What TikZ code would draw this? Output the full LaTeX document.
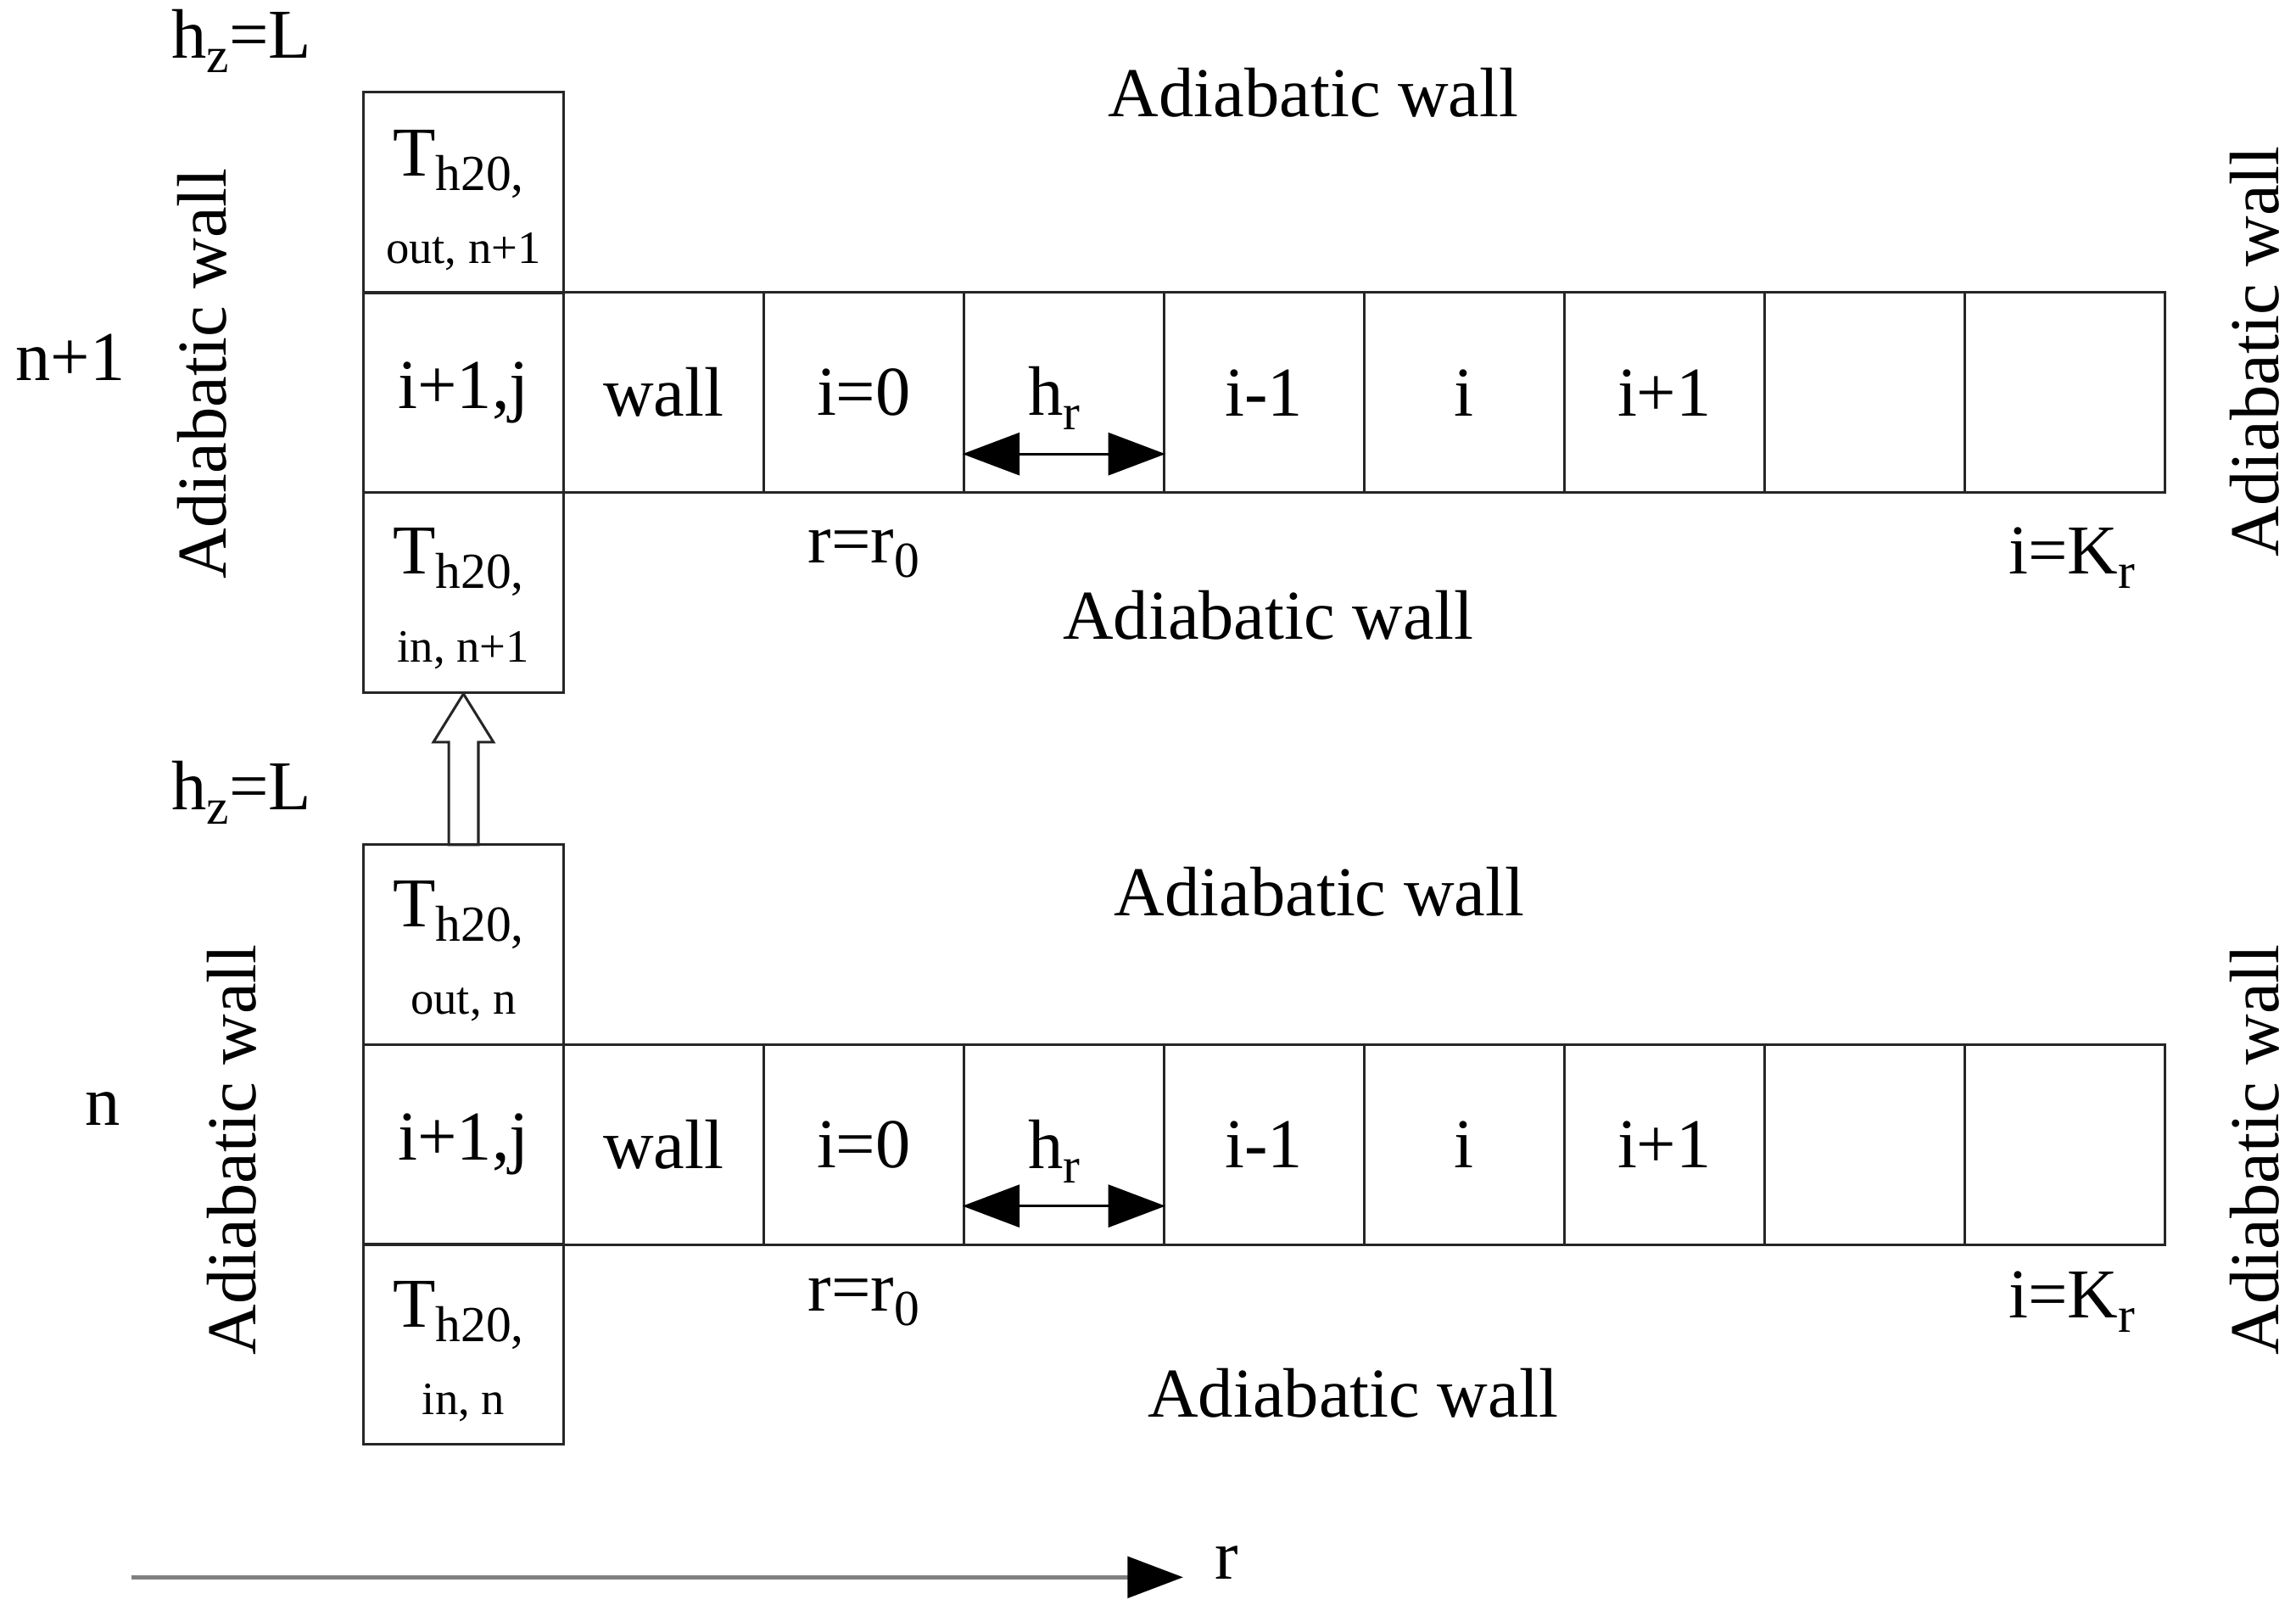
\documentclass[tikz,border=0pt]{standalone}
\usepackage{fontspec}
\setmainfont{Liberation Serif}
\usetikzlibrary{arrows.meta}
\newcommand\mainsz{\fontsize{13.6}{16}\selectfont}
\newcommand\smallsz{\fontsize{9}{11}\selectfont}
\newcommand\mysub[1]{\raisebox{-0.45ex}{\fontsize{9.8}{11}\selectfont #1}}
\begin{document}
\begin{tikzpicture}[x=0.01cm,y=-0.01cm,
  cell/.style={draw=black!85, line width=0.5pt, minimum width=1.367cm, minimum height=1.367cm, inner sep=0pt, font=\mainsz},
  lbl/.style={inner sep=0pt, font=\mainsz},
  sublbl/.style={inner sep=0pt, font=\smallsz},
  vlbl/.style={inner sep=0pt, font=\mainsz, rotate=90},
  bigtip/.style={-{Triangle[length=0.39cm,width=0.29cm]}}
]
\useasboundingbox (0,0) rectangle (1568,1103);

% ---------- upper layer (n+1) ----------
\node[cell] (tout1) at (316.5,131.5) {};
\node[cell] (c1-0) at (316.5,268) {i+1,j};
\node[cell] (tin1) at (316.5,404.5) {};
\foreach \k/\t in {1/wall,2/i=0,3/,4/i-1,5/i,6/i+1,7/,8/} {
  \node[cell] (c1-\k) at ({316.5+136.7*\k},268) {\t};
}
\node[lbl] (tA1) at (313,112) {T\mysub{h20,}};
\node[sublbl] (tB1) at (316.5,172) {out, n+1};
\node[lbl] (tC1) at (313,384) {T\mysub{h20,}};
\node[sublbl] (tD1) at (316.5,444) {in, n+1};
\node[lbl] (hr1) at (720,272) {h\mysub{r}};
\path (c1-3.west) ++(0,42) coordinate (ha1);
\path (c1-3.east) ++(0,42) coordinate (hb1);
\draw[line width=0.5pt, {Triangle[length=0.39cm,width=0.29cm]}-{Triangle[length=0.39cm,width=0.29cm]}] (ha1) -- (hb1);

\node[lbl] (hz1) at (165,28) {h\mysub{z}=L};
\node[lbl] (aw1) at (897,63) {Adiabatic wall};
\node[lbl] (aw2) at (866,420) {Adiabatic wall};
\node[vlbl] (aw3) at (138,255) {Adiabatic wall};
\node[vlbl] (aw4) at (1540,240) {Adiabatic wall};
\node[lbl] (n1) at (48,244) {n+1};
\node[lbl] (r01) at (590,378) {r=r\mysub{0}};
\node[lbl] (kr1) at (1415,381) {i=K\mysub{r}};

% ---------- lower layer (n) ----------
\node[cell] (tout2) at (316.5,645) {};
\node[cell] (c2-0) at (316.5,781.5) {i+1,j};
\node[cell] (tin2) at (316.5,918) {};
\foreach \k/\t in {1/wall,2/i=0,3/,4/i-1,5/i,6/i+1,7/,8/} {
  \node[cell] (c2-\k) at ({316.5+136.7*\k},781.5) {\t};
}
\node[lbl] (tA2) at (313,625) {T\mysub{h20,}};
\node[sublbl] (tB2) at (316.5,686) {out, n};
\node[lbl] (tC2) at (313,898) {T\mysub{h20,}};
\node[sublbl] (tD2) at (316.5,958) {in, n};
\node[lbl] (hr2) at (720,786) {h\mysub{r}};
\path (c2-3.west) ++(0,42) coordinate (ha2);
\path (c2-3.east) ++(0,42) coordinate (hb2);
\draw[line width=0.5pt, {Triangle[length=0.39cm,width=0.29cm]}-{Triangle[length=0.39cm,width=0.29cm]}] (ha2) -- (hb2);

\node[lbl] (hz2) at (165,541) {h\mysub{z}=L};
\node[lbl] (aw5) at (901,609) {Adiabatic wall};
\node[lbl] (aw6) at (924,951) {Adiabatic wall};
\node[vlbl] (aw7) at (158,785) {Adiabatic wall};
\node[vlbl] (aw8) at (1540,785) {Adiabatic wall};
\node[lbl] (n2) at (70,757) {n};
\node[lbl] (r02) at (590,889) {r=r\mysub{0}};
\node[lbl] (kr2) at (1415,889) {i=K\mysub{r}};

% ---------- hollow arrow between layers ----------
\draw[draw=black!85, line width=0.5pt, fill=white]
  (tin1.south) -- ++(-20.5,33) -- ++(10.5,0) -- ++(0,70) -- ++(20.2,0)
  -- ++(0,-70) -- ++(10.3,0) -- cycle;

% ---------- r axis ----------
\coordinate (ra) at (90,1077);
\coordinate (rb) at (808,1077);
\draw[gray, line width=0.8pt, -{Triangle[length=0.38cm,width=0.28cm,black]}] (ra) -- (rb);
\node[lbl] (rl) at (838,1067) {r};
\end{tikzpicture}
\end{document}
